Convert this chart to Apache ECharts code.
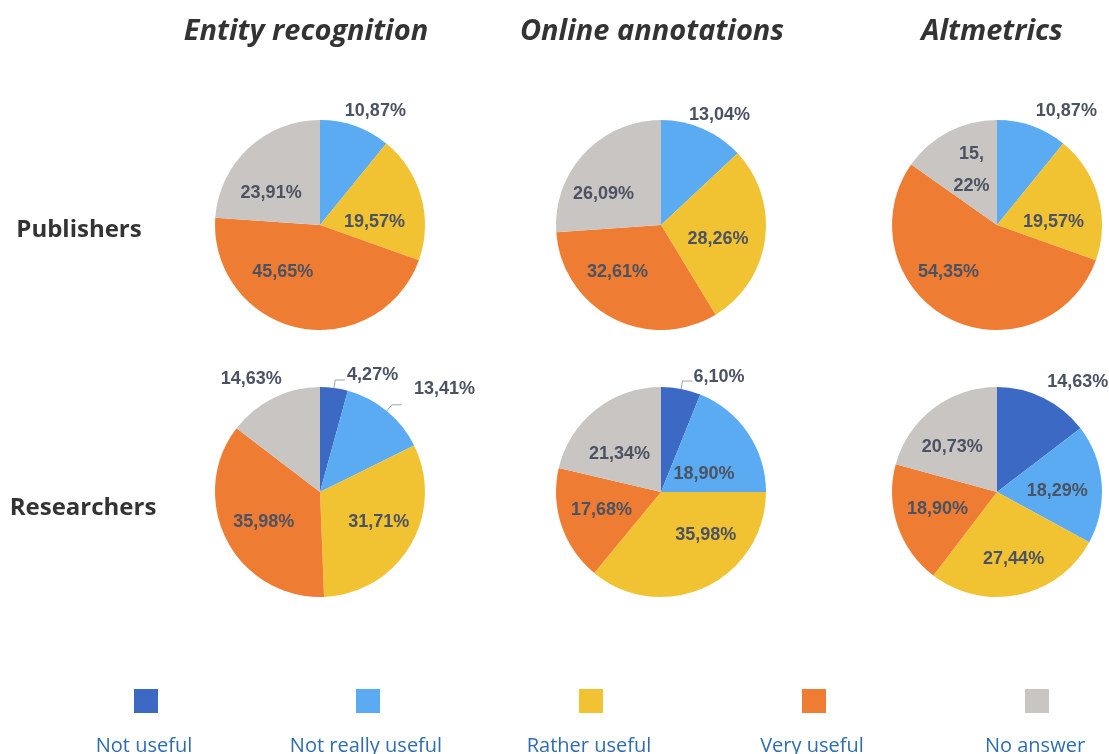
<!DOCTYPE html>
<html>
<head>
<meta charset="utf-8">
<title>Usefulness of features</title>
<script src="https://cdn.jsdelivr.net/npm/echarts@6/dist/echarts.min.js"></script>
<style>
  html, body { margin: 0; padding: 0; background: #fff; }
  #main { width: 1109px; height: 754px; }
</style>
</head>
<body>
<div id="main"></div>
<script>
// categories (legend order = slice order, clockwise from 12 o'clock)
var categories = ['Not useful', 'Not really useful', 'Rather useful', 'Very useful', 'No answer'];
var columns = ['Entity recognition', 'Online annotations', 'Altmetrics'];
var rows = ['Publishers', 'Researchers'];

// shares in %
var pubEntity = [0, 10.87, 19.57, 45.65, 23.91];
var pubAnnot = [0, 13.04, 28.26, 32.61, 26.09];
var pubAlt = [0, 10.87, 19.57, 54.35, 15.22];
var resEntity = [4.27, 13.41, 31.71, 35.98, 14.63];
var resAnnot = [6.10, 18.90, 35.98, 17.68, 21.34];
var resAlt = [14.63, 18.29, 27.44, 18.90, 20.73];

var colors = ['#3b69c3', '#5aabf1', '#f1c232', '#ee7c33', '#c8c5c2'];

// where each label goes: in = inside, out = outside no line, line = outside with leader
var labelModes = [
  [['in', 'out', 'in', 'in', 'in'], ['in', 'out', 'in', 'in', 'in'], ['in', 'out', 'in', 'in', 'wrap']],
  [['line', 'line', 'in', 'in', 'out'], ['line', 'in', 'in', 'in', 'in'], ['out', 'in', 'in', 'in', 'in']]
];
// small label shifts (px) so they sit where the original put them
var labelNudge = [
  [[[0, 0], [-28, -7], [1, 12], [-26, -7], [-11, 9]],
   [[0, 0], [-32, -6], [2, 6], [-18, -2], [-17, 7]],
   [[0, 0], [-14, -7], [3, 12], [-23, -2], [0, -6]]],
  [[[-3, -5], [7, -16], [11, 2], [-7, 4], [27, -12]],
   [[-4, -4], [-3, 13], [21, -7], [-7, 0], [-7, 6]],
   [[-15, -9], [5, 3], [5, 13], [-7, -1], [-11, -1]]]
];

var colX = [320, 661, 997];
var rowY = [225, 492];
var R = 105;

var myChart = echarts.init(document.getElementById('main'));

function fmt(v) {
  return v.toFixed(2).replace('.', ',') + '%';
}

function buildData(values, modes, nudge) {
  return values.map(function (v, i) {
    var m = modes[i];
    var item = { name: categories[i], value: v, itemStyle: { color: colors[i] } };
    if (v === 0) {
      item.label = { show: false };
      item.labelLine = { show: false };
      return item;
    }
    if (m === 'in' || m === 'wrap') {
      item.label = { position: 'inside' };
      if (m === 'wrap') {
        var s = fmt(v).split(',');
        item.label.formatter = s[0] + ',\n' + s[1];
        item.label.lineHeight = 32;
      }
    } else {
      item.label = { position: 'outside' };
      item.labelLine = {
        show: m === 'line',
        length: 8,
        length2: 10,
        lineStyle: { color: '#9aa6b5', width: 1 }
      };
    }
    item.label.offset = nudge[i];
    return item;
  });
}

var seriesValues = [[pubEntity, pubAnnot, pubAlt], [resEntity, resAnnot, resAlt]];
var series = [];
for (var r = 0; r < 2; r++) {
  for (var c = 0; c < 3; c++) {
    series.push({
      type: 'pie',
      center: [colX[c], rowY[r]],
      radius: R,
      startAngle: 90,
      clockwise: true,
      silent: true,
      avoidLabelOverlap: false,
      label: {
        color: '#4b5262',
        fontFamily: 'Liberation Sans',
        fontWeight: 'bold',
        fontSize: 18,
        formatter: function (p) { return fmt(p.value); }
      },
      labelLine: { show: false },
      data: buildData(seriesValues[r][c], labelModes[r][c], labelNudge[r][c])
    });
  }
}

var titles = [];
var titleX = [301, 647, 987];
columns.forEach(function (t, i) {
  titles.push({
    text: t, left: titleX[i], top: 12, textAlign: 'center',
    textStyle: { fontFamily: 'Open Sans', fontStyle: 'italic', fontWeight: 'bold', fontSize: 29, color: '#333' }
  });
});
var rowLabelX = [74, 78];
var rowLabelY = [213, 491];
rows.forEach(function (t, i) {
  titles.push({
    text: t, left: rowLabelX[i], top: rowLabelY[i], textAlign: 'center',
    textStyle: { fontFamily: 'Open Sans', fontWeight: 'bold', fontSize: 24, color: '#333' }
  });
});

// legend: square above its text
var legendX = [146, 368, 591, 814, 1037];
var graphic = [];
categories.forEach(function (name, i) {
  graphic.push({
    type: 'rect', x: legendX[i] - 12, y: 689,
    shape: { width: 24, height: 24 },
    style: { fill: colors[i] }
  });
  graphic.push({
    type: 'text', x: legendX[i] - 2, y: 746,
    style: { text: name, align: 'center', verticalAlign: 'middle', fill: '#2f6db3', fontSize: 20, fontFamily: 'Open Sans' }
  });
});

var option = {
  backgroundColor: '#fff',
  animation: false,
  title: titles,
  series: series,
  graphic: graphic
};
myChart.setOption(option);
</script>
</body>
</html>
